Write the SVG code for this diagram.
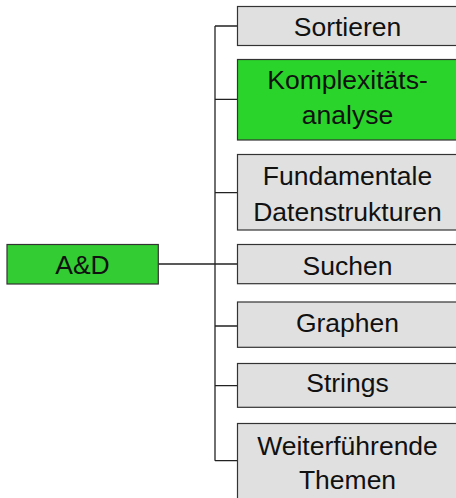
<svg xmlns="http://www.w3.org/2000/svg" width="456" height="498" viewBox="0 0 456 498">
<style>
.box{fill:#e0e0e0;stroke:#333;stroke-width:1.2}
.green{fill:#2bd42b;stroke:#333;stroke-width:1.2}
.root{fill:#33cc33;stroke:#333;stroke-width:1.2}
.lbl{font-family:"Liberation Sans",Arial,sans-serif;font-size:26.5px;fill:#111;text-anchor:middle}
.con{fill:none;stroke:#222;stroke-width:1.3}
</style>
<rect width="456" height="498" fill="#fff"/>
<g id="connectors">
<path class="con" d="M215,26 V460.7"/>
<path class="con" d="M158.3,264 H237.5"/>
<path class="con" d="M215,26 H237.5 M215,99.3 H237.5 M215,192.7 H237.5 M215,326 H237.5 M215,385.7 H237.5 M215,460.7 H237.5"/>
</g>
<g id="ad"><rect class="root" x="7" y="244.5" width="151.3" height="39.5"/><text class="lbl" x="82.5" y="274.3">A&amp;D</text></g>
<g id="sortieren"><rect class="box" x="237.5" y="6.5" width="220" height="39"/><text class="lbl" x="347.5" y="36">Sortieren</text></g>
<g id="komplexitaet"><rect class="green" x="237.5" y="59.5" width="220" height="80.5"/><text class="lbl" x="347.5" y="89.3">Komplexitäts-</text><text class="lbl" x="347.5" y="124.3">analyse</text></g>
<g id="datenstrukturen"><rect class="box" x="237.5" y="154.5" width="220" height="75.5"/><text class="lbl" x="347.5" y="185">Fundamentale</text><text class="lbl" x="347.5" y="221">Datenstrukturen</text></g>
<g id="suchen"><rect class="box" x="237.5" y="244.5" width="220" height="39.2"/><text class="lbl" x="347.5" y="275">Suchen</text></g>
<g id="graphen"><rect class="box" x="237.5" y="302" width="220" height="45.3"/><text class="lbl" x="347.5" y="331.7">Graphen</text></g>
<g id="strings"><rect class="box" x="237.5" y="363.5" width="220" height="43.8"/><text class="lbl" x="347.5" y="391.7">Strings</text></g>
<g id="weiterfuehrend"><rect class="box" x="237.5" y="423.5" width="220" height="80"/><text class="lbl" x="347.5" y="455">Weiterführende</text><text class="lbl" x="347.5" y="489.3">Themen</text></g>
</svg>
